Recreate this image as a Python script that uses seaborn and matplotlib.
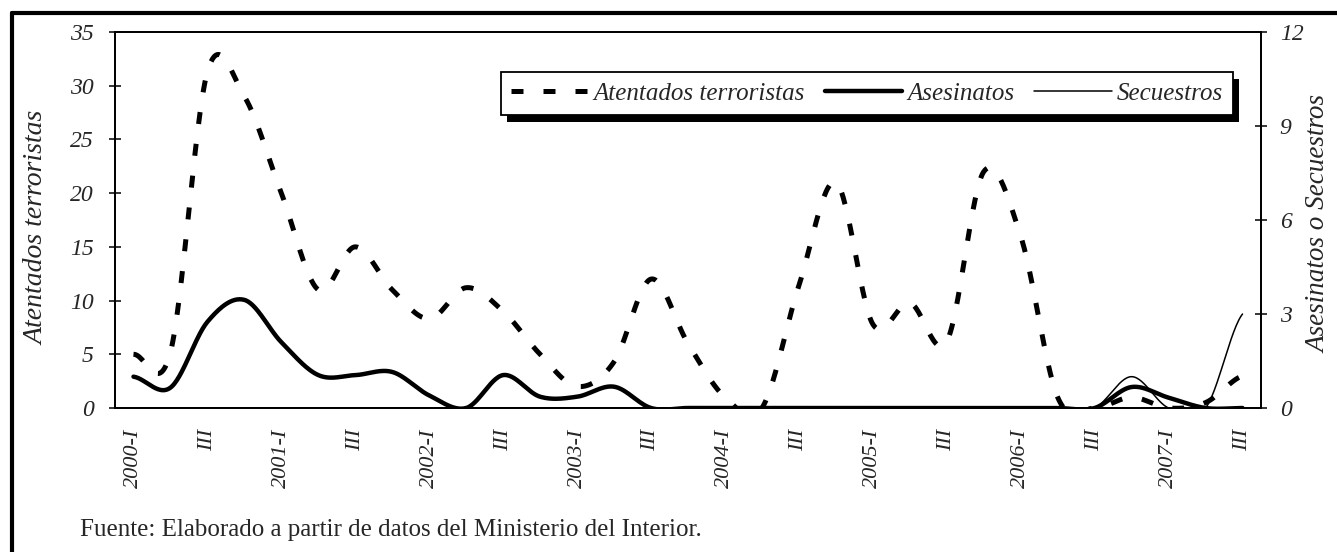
import numpy as np
import pandas as pd
import matplotlib
matplotlib.use("Agg")
import matplotlib.pyplot as plt
from matplotlib.lines import Line2D
from matplotlib.patches import Rectangle
import seaborn as sns

# ---------------- data (quarterly, 2000-I .. 2007-III) ----------------
quarters = [f"{y}-{q}" for y in range(2000, 2008) for q in ["I", "II", "III", "IV"]][:31]
tick_labels = ["2000-I", "III", "2001-I", "III", "2002-I", "III", "2003-I", "III",
               "2004-I", "III", "2005-I", "III", "2006-I", "III", "2007-I", "III"]
atentados = [5.0, 5.2, 31.3, 29.0, 20.0, 11.0, 15.0, 11.0, 8.3, 11.2, 9.0, 5.0, 2.0, 4.3,
             12.0, 6.0, 1.0, 0.0, 11.4, 21.0, 7.8, 9.8, 6.2, 22.0, 16.0, 1.0, 0.0, 1.0,
             0.0, 0.5, 3.0]
asesinatos = [1.0, 0.65, 2.75, 3.45, 2.1, 1.05, 1.05, 1.15, 0.4, 0.0, 1.05, 0.36, 0.36,
              0.68, 0.0, 0.0, 0.0, 0.0, 0.0, 0.0, 0.0, 0.0, 0.0, 0.0, 0.0, 0.0, 0.0,
              0.67, 0.33, 0.0, 0.0]
secuestros = [0.0] * 27 + [1.0, 0.0, 0.0, 3.0]
labels = ["Atentados terroristas", "Asesinatos", "Secuestros"]
source = "Fuente: Elaborado a partir de datos del Ministerio del Interior."


def smooth(vals, n=30):
    """Excel-like smoothed line (Catmull-Rom Bezier) through the data points."""
    p = np.asarray(vals, float)
    pe = np.concatenate([[p[0]], p, [p[-1]]])
    xs, ys = [], []
    for i in range(len(p) - 1):
        p0, p1, p2, p3 = pe[i], pe[i + 1], pe[i + 2], pe[i + 3]
        c1 = p1 + (p2 - p0) / 6.0
        c2 = p2 - (p3 - p1) / 6.0
        t = np.linspace(0, 1, n, endpoint=(i == len(p) - 2))
        y = (1 - t) ** 3 * p1 + 3 * (1 - t) ** 2 * t * c1 + 3 * (1 - t) * t ** 2 * c2 + t ** 3 * p2
        xs.append(i + t)
        ys.append(y)
    return np.concatenate(xs), np.concatenate(ys)


sns.set_style("white")
plt.rcParams["font.family"] = ["Liberation Serif", "DejaVu Serif"]
plt.rcParams["axes.linewidth"] = 1.3

W, H = 1337, 552
fig = plt.figure(figsize=(W / 100, H / 100), dpi=100)
ax = fig.add_axes([115 / W, 1 - 408 / H, (1261 - 115) / W, (408 - 32) / H])
ax2 = ax.twinx()

dash_style = (0, (2.4, 4.0))
xa, ya = smooth(atentados)
df_a = pd.DataFrame({"x": xa, "y": ya})
sns.lineplot(data=df_a, x="x", y="y", ax=ax, color="black", lw=3.6, linestyle=dash_style,
             sort=False, estimator=None, zorder=3)

xs_, ys_ = smooth(secuestros)
sns.lineplot(x=xs_, y=ys_, ax=ax2, color="black", lw=1.1, sort=False, estimator=None, zorder=2)
xk, yk = smooth(asesinatos)
sns.lineplot(x=xk, y=yk, ax=ax2, color="black", lw=3.2, sort=False, estimator=None, zorder=3)

n = len(quarters)
ax.set_xlim(-0.5, n - 0.5)
ax.set_ylim(0, 35)
ax2.set_ylim(0, 12)
ax.set_yticks(np.arange(0, 36, 5))
ax2.set_yticks(np.arange(0, 13, 3))
ax.set_xticks(np.arange(0, n, 2))
ax.set_xticklabels(tick_labels, rotation=90, fontstyle="italic", fontsize=16)
ax.set_xticks(np.arange(-0.5, n, 1), minor=True)
ax.tick_params(axis="x", which="major", length=0, pad=15)
ax.tick_params(axis="x", which="minor", direction="inout", length=9, width=1.1, color="black")
ax.tick_params(axis="y", direction="inout", length=9, width=1.1, color="black", pad=11, labelsize=17)
ax2.tick_params(axis="y", direction="inout", length=9, width=1.1, color="black", pad=9, labelsize=17)
for lab in ax.get_yticklabels() + ax2.get_yticklabels():
    lab.set_fontstyle("italic")
ax.set_xlabel("")
ax.set_ylabel("")
ax2.set_ylabel("")
for a in (ax, ax2):
    for s in a.spines.values():
        s.set_color("black")
        s.set_linewidth(1.3)
    a.grid(False)

fig.text(37 / W, 1 - 228 / H, "Atentados terroristas", rotation=90, ha="center", va="center",
         fontsize=20, fontstyle="italic")
fig.text(1319 / W, 1 - 224 / H, "Asesinatos o Secuestros", rotation=90, ha="center", va="center",
         fontsize=19.5, fontstyle="italic")
fig.text(80 / W, 1 - 530 / H, source, ha="left", va="center", fontsize=18)

# legend
handles = [Line2D([], [], color="black", lw=3.6, linestyle=dash_style),
           Line2D([], [], color="black", lw=3.2),
           Line2D([], [], color="black", lw=1.1)]
leg = fig.legend(handles, labels, loc="upper right", bbox_to_anchor=(1233 / W, 1 - 72 / H),
                 ncol=3, frameon=True, fancybox=False, framealpha=1, edgecolor="black",
                 borderaxespad=0, handlelength=3.1, handletextpad=0.2, columnspacing=0.8,
                 borderpad=0.4, prop={"style": "italic", "size": 18})
leg.get_frame().set_linewidth(1.3)
leg.set_zorder(10)
fig.canvas.draw()
bb = leg.get_window_extent(fig.canvas.get_renderer())
shadow = Rectangle((bb.x0 + 6, bb.y0 - 7), bb.width, bb.height, transform=None,
                   facecolor="black", edgecolor="none", zorder=9)
fig.add_artist(shadow)

# outer frame (left and top edges visible)
fig.add_artist(Line2D([12 / W, 12 / W], [0, 1 - 13 / H], color="black", lw=3, transform=fig.transFigure))
fig.add_artist(Line2D([12 / W, 1], [1 - 13 / H, 1 - 13 / H], color="black", lw=3, transform=fig.transFigure))

fig.savefig("out.png", dpi=100)
